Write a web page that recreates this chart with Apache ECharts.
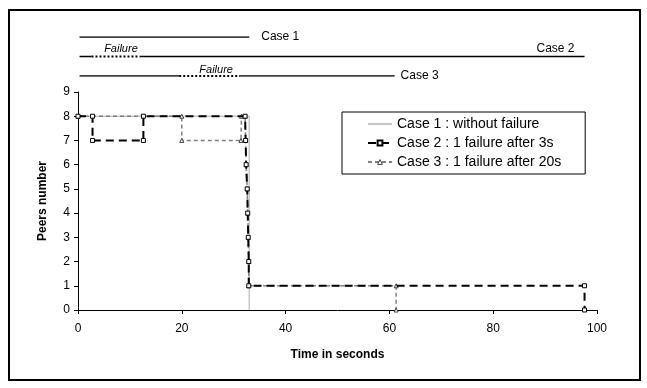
<!DOCTYPE html>
<html>
<head>
<meta charset="utf-8">
<script src="https://cdn.jsdelivr.net/npm/echarts@6/dist/echarts.min.js"></script>
<style>
  html, body { margin: 0; padding: 0; background: #fff; }
  #chart { width: 647px; height: 388px; }
</style>
</head>
<body>
<div id="chart"></div>
<script>
// step curves (time in s, peers)
const case1X = [0, 33, 33];
const case1Y = [8, 8, 0];
const case2X = [0, 2.8, 2.8, 12.6, 12.6, 32.2, 32.3, 32.4, 32.6, 32.7, 32.8, 32.9, 32.9, 97.6, 97.6];
const case2Y = [8, 8, 7, 7, 8, 8, 7, 6, 5, 4, 3, 2, 1, 1, 0];
const case3X = [0, 20, 20, 31.4, 31.5, 32.2, 32.3, 32.4, 32.6, 32.7, 32.8, 32.9, 32.9, 61.3, 61.3];
const case3Y = [8, 8, 7, 7, 8, 8, 7, 6, 5, 4, 3, 2, 1, 1, 0];

const legendNames = ["Case 1 : without failure", "Case 2 : 1 failure after 3s", "Case 3 : 1 failure after 20s"];

// timelines above the plot: [start, end] in seconds, row 2 = Case 1 ... row 0 = Case 3
const case1Run = [0.3, 33];
const case2Runs = [[0.3, 2.6], [11.9, 97.6]];
const case2Fail = [2.6, 11.9];
const case3Runs = [[0.3, 19.5], [31.2, 61]];
const case3Fail = [19.5, 31.2];

const font = "Liberation Sans, Arial, sans-serif";

function pts(xs, ys) {
  return xs.map((x, i) => [x, ys[i]]);
}
function span(s, row) {
  return [[s[0], row], [s[1], row]];
}

var chart = echarts.init(document.getElementById("chart"));

var timeline = function(name, data, opts) {
  return Object.assign({
    name: name,
    type: "line",
    xAxisIndex: 1,
    yAxisIndex: 1,
    data: data,
    showSymbol: false,
    symbol: "none",
    silent: true,
    animation: false,
    lineStyle: { color: "#000", width: 1.5 }
  }, opts || {});
};

var lblStyle = { color: "#000", fontFamily: font, fontSize: 12 };
var failStyle = { color: "#000", fontFamily: font, fontSize: 11, fontStyle: "italic" };

chart.setOption({
  animation: false,
  textStyle: { fontFamily: font },
  graphic: [{
    type: "rect",
    shape: { x: 9, y: 10, width: 631, height: 370 },
    style: { fill: "none", stroke: "#000", lineWidth: 2 }
  }],
  legend: {
    data: [
      { name: legendNames[0], itemStyle: { opacity: 0 } },
      legendNames[1],
      { name: legendNames[2], itemStyle: { color: "#fff", borderColor: "#404040", borderWidth: 1 } }
    ],
    left: 342,
    top: 112,
    orient: "vertical",
    itemWidth: 24,
    itemHeight: 6,
    itemGap: 5,
    padding: [5, 24, 5, 25],
    borderColor: "#000",
    borderWidth: 1,
    backgroundColor: "#fff",
    selectedMode: false,
    textStyle: { color: "#000", fontFamily: font, fontSize: 14 }
  },
  grid: [
    { left: 78, top: 92, width: 519, height: 218 },
    { left: 78, top: 37, width: 519, height: 39 }
  ],
  xAxis: [{
    type: "value",
    min: 0, max: 100, interval: 20,
    name: "Time in seconds",
    nameLocation: "middle",
    nameGap: 39,
    nameTextStyle: { color: "#000", fontWeight: "bold", fontSize: 12, fontFamily: font },
    axisLine: { lineStyle: { color: "#000", width: 1 } },
    axisTick: { length: 4, lineStyle: { color: "#000" } },
    axisLabel: { color: "#000", fontSize: 12, margin: 13, fontFamily: font },
    splitLine: { show: false }
  }, {
    type: "value", gridIndex: 1, min: 0, max: 100, show: false
  }],
  yAxis: [{
    type: "value",
    min: 0, max: 9, interval: 1,
    name: "Peers number",
    nameLocation: "middle",
    nameGap: 29,
    nameTextStyle: { color: "#000", fontWeight: "bold", fontSize: 12, fontFamily: font },
    axisLine: { show: true, lineStyle: { color: "#000", width: 1 } },
    axisTick: { show: true, length: 4, lineStyle: { color: "#000" } },
    axisLabel: { color: "#000", fontSize: 12, margin: 8, fontFamily: font },
    splitLine: { show: false }
  }, {
    type: "value", gridIndex: 1, min: 0, max: 2, show: false
  }],
  series: [
    {
      name: legendNames[0],
      type: "line",
      data: pts(case1X, case1Y),
      symbol: "none",
      z: 1,
      lineStyle: { color: "#c8c8c8", width: 1.5 },
      itemStyle: { color: "#c8c8c8" }
    },
    {
      name: legendNames[1],
      type: "line",
      data: pts(case2X, case2Y),
      symbol: "rect",
      symbolSize: 4,
      z: 3,
      lineStyle: { color: "#000", width: 2, type: [8, 5] },
      itemStyle: { color: "#fff", borderColor: "#000", borderWidth: 1 }
    },
    {
      name: legendNames[2],
      type: "line",
      data: pts(case3X, case3Y),
      symbol: "triangle",
      symbolSize: 4,
      z: 2,
      lineStyle: { color: "#808080", width: 1.5, type: [4, 3] },
      itemStyle: { color: "#fff", borderColor: "#404040", borderWidth: 1 }
    },
    // timelines
    timeline("t1", span(case1Run, 2), {
      endLabel: { show: true, formatter: "Case 1", distance: 12, ...lblStyle }
    }),
    timeline("t2a", span(case2Runs[0], 1)),
    timeline("t2f", span(case2Fail, 1), {
      lineStyle: { color: "#000", width: 2, type: [2, 2] },
      endLabel: { show: true, formatter: "Failure", distance: 0, align: "right", verticalAlign: "bottom", offset: [-2, -2], ...failStyle }
    }),
    timeline("t2b", span(case2Runs[1], 1), {
      endLabel: { show: true, formatter: "Case 2", distance: 0, align: "right", verticalAlign: "bottom", offset: [-10, -2], ...lblStyle }
    }),
    timeline("t3a", span(case3Runs[0], 0)),
    timeline("t3f", span(case3Fail, 0), {
      lineStyle: { color: "#000", width: 2, type: [2, 2] },
      endLabel: { show: true, formatter: "Failure", distance: 0, align: "right", verticalAlign: "bottom", offset: [-7, -1], ...failStyle }
    }),
    timeline("t3b", span(case3Runs[1], 0), {
      endLabel: { show: true, formatter: "Case 3", distance: 6, ...lblStyle }
    })
  ]
});
</script>
</body>
</html>
